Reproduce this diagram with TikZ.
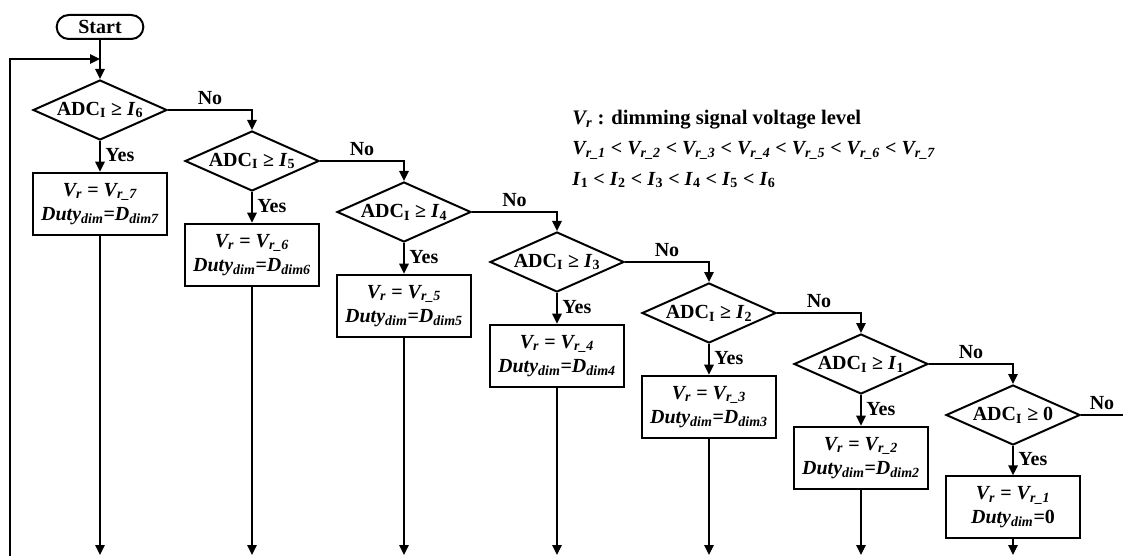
\documentclass[tikz,border=0pt]{standalone}
\usepackage{fontspec}
\setmainfont{Liberation Serif}
\usepackage{tikz}
\usetikzlibrary{shapes,arrows.meta,calc,positioning}

\newcommand{\cond}[1]{ADC\textsubscript{I} ≥ #1}
\newcommand{\Ic}[1]{\textit{I}\textsubscript{#1}}
\newcommand{\Vr}{\textit{V\textsubscript{r}}}
\newcommand{\Vrk}[1]{\textit{V\textsubscript{r\_#1}}}
\newcommand{\Duty}{\textit{Duty\textsubscript{dim}}}
\newcommand{\Ddim}[1]{\textit{D\textsubscript{dim#1}}}

\begin{document}
\begin{tikzpicture}[x=0.75pt, y=-0.75pt, line width=1.5pt,
  font=\fontsize{15}{18}\selectfont\bfseries,
  arr/.style={-{Triangle[length=7.5pt,width=7pt]}},
  startbox/.style={draw, rounded corners=9pt, minimum width=65pt, minimum height=18pt, inner sep=1pt},
  decision/.style={draw, diamond, shape aspect=2.2, minimum width=100.5pt, minimum height=45pt, inner sep=0pt},
  action/.style={draw, align=center, minimum width=101pt, minimum height=46.5pt, inner sep=1pt}]
  \useasboundingbox (0,0) rectangle (1123,556);

  \node [startbox] at (100,27) (start) {Start};

  \node [decision] at (100,110) (D1) {\cond{\Ic{6}}};
  \node [decision] at (252,161) (D2) {\cond{\Ic{5}}};
  \node [decision] at (404,212) (D3) {\cond{\Ic{4}}};
  \node [decision] at (557,262) (D4) {\cond{\Ic{3}}};
  \node [decision] at (709,313) (D5) {\cond{\Ic{2}}};
  \node [decision] at (861,364) (D6) {\cond{\Ic{1}}};
  \node [decision] at (1013,415) (D7) {\cond{0}};

  \node [action, below=23pt of D1] (B1) {\Vr{} = \Vrk{7}\\ \Duty=\Ddim{7}};
  \node [action, below=23pt of D2] (B2) {\Vr{} = \Vrk{6}\\ \Duty=\Ddim{6}};
  \node [action, below=23pt of D3] (B3) {\Vr{} = \Vrk{5}\\ \Duty=\Ddim{5}};
  \node [action, below=23pt of D4] (B4) {\Vr{} = \Vrk{4}\\ \Duty=\Ddim{4}};
  \node [action, below=23pt of D5] (B5) {\Vr{} = \Vrk{3}\\ \Duty=\Ddim{3}};
  \node [action, below=23pt of D6] (B6) {\Vr{} = \Vrk{2}\\ \Duty=\Ddim{2}};
  \node [action, below=22pt of D7] (B7) {\Vr{} = \Vrk{1}\\ \Duty=0};

  % legend
  \node [anchor=west, font=\fontsize{15.5}{18}\selectfont\bfseries] at (567,120) (leg1) {\Vr{} : dimming signal voltage level};
  \node [anchor=west] at (567,150) (leg2) {\Vrk{1} < \Vrk{2} < \Vrk{3} < \Vrk{4} < \Vrk{5} < \Vrk{6} < \Vrk{7}};
  \node [anchor=west] at (567,180) (leg3) {\Ic{1} < \Ic{2} < \Ic{3} < \Ic{4} < \Ic{5} < \Ic{6}};

  \coordinate (loopB) at (10,556);
  \coordinate (loopT) at (10,59);
  \coordinate (bot) at (0,555);
  \coordinate (exit) at (1123,415);

  \draw [arr] (start.south) to (D1.north);
  \draw [arr] (loopB) -- (loopT) -- (loopT -| start.south);

  \draw [arr] (D1) -| node[pos=0.25, above] {No} (D2);
  \draw [arr] (D2) -| node[pos=0.25, above] {No} (D3);
  \draw [arr] (D3) -| node[pos=0.25, above] {No} (D4);
  \draw [arr] (D4) -| node[pos=0.25, above] {No} (D5);
  \draw [arr] (D5) -| node[pos=0.25, above] {No} (D6);
  \draw [arr] (D6) -| node[pos=0.25, above] {No} (D7);
  \draw (D7.east) -- node[above] {No} (D7.east -| exit);

  \draw [arr] (D1) -- node[right, pos=0.45] {Yes} (B1);
  \draw [arr] (D2) -- node[right, pos=0.45] {Yes} (B2);
  \draw [arr] (D3) -- node[right, pos=0.45] {Yes} (B3);
  \draw [arr] (D4) -- node[right, pos=0.45] {Yes} (B4);
  \draw [arr] (D5) -- node[right, pos=0.45] {Yes} (B5);
  \draw [arr] (D6) -- node[right, pos=0.45] {Yes} (B6);
  \draw [arr] (D7) -- node[right, pos=0.45] {Yes} (B7);

  \draw [arr] (B1) -- (B1 |- bot);
  \draw [arr] (B2) -- (B2 |- bot);
  \draw [arr] (B3) -- (B3 |- bot);
  \draw [arr] (B4) -- (B4 |- bot);
  \draw [arr] (B5) -- (B5 |- bot);
  \draw [arr] (B6) -- (B6 |- bot);
  \draw [arr] (B7) -- (B7 |- bot);
\end{tikzpicture}
\end{document}
